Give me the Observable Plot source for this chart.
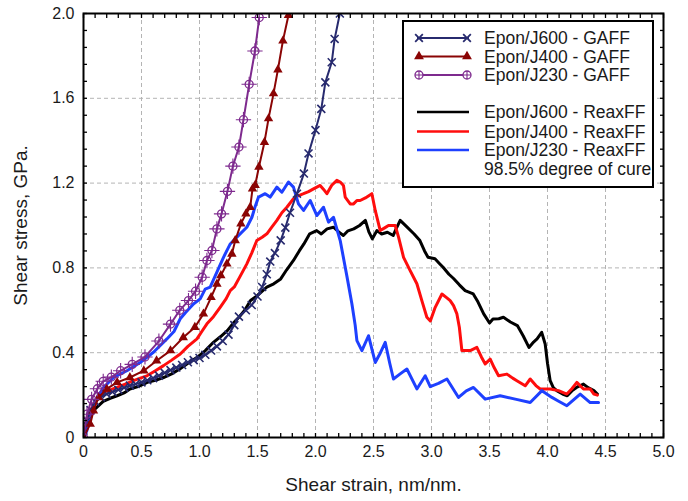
<!DOCTYPE html>
<html>
<head>
<meta charset="utf-8">
<script src="https://cdn.jsdelivr.net/npm/d3@7"></script>
<script src="https://cdn.jsdelivr.net/npm/@observablehq/plot@0.6"></script>
<style>
  body { margin: 0; background: #fff; }
  #wrap { position: relative; width: 688px; height: 501px; font-family: "Liberation Sans", Arial, sans-serif; }
  #legend { position: absolute; left: 402px; top: 20px; }
</style>
</head>
<body>
<div id="wrap"><div id="chart"></div><div id="legend"></div></div>
<script>
// ---- tick labels ----
const xTicks = [0, 0.5, 1.0, 1.5, 2.0, 2.5, 3.0, 3.5, 4.0, 4.5, 5.0];
const yTicks = [0, 0.4, 0.8, 1.2, 1.6, 2.0];
const xTitle = "Shear strain, nm/nm.";
const yTitle = "Shear stress, GPa.";

// ---- series names ----
const gaffNames = ["Epon/J600 - GAFF", "Epon/J400 - GAFF", "Epon/J230 - GAFF"];
const reaxNames = ["Epon/J600 - ReaxFF", "Epon/J400 - ReaxFF", "Epon/J230 - ReaxFF"];
const legendNote = "98.5% degree of cure";

// ---- GAFF series [strain, stress] ----
const gaffJ600 = [[0,0],[0.03,0.08],[0.06,0.13],[0.1,0.17],[0.15,0.19],[0.2,0.205],[0.25,0.215],[0.3,0.225],[0.35,0.235],[0.4,0.245],[0.45,0.252],[0.5,0.26],[0.55,0.27],[0.6,0.28],[0.65,0.292],[0.7,0.305],[0.75,0.318],[0.8,0.33],[0.85,0.342],[0.9,0.355],[0.95,0.365],[1.0,0.375],[1.05,0.39],[1.1,0.41],[1.15,0.43],[1.2,0.455],[1.25,0.485],[1.3,0.53],[1.34,0.57],[1.4,0.6],[1.45,0.625],[1.5,0.665],[1.54,0.71],[1.58,0.77],[1.61,0.83],[1.65,0.87],[1.7,0.93],[1.74,0.99],[1.78,1.06],[1.84,1.15],[1.9,1.245],[1.94,1.34],[2.0,1.45],[2.05,1.55],[2.085,1.675],[2.14,1.77],[2.165,1.88],[2.21,2.0]];
const gaffJ400 = [[0,0],[0.058,0.063],[0.086,0.126],[0.129,0.189],[0.2,0.229],[0.29,0.26],[0.4,0.283],[0.52,0.315],[0.63,0.362],[0.75,0.41],[0.86,0.472],[0.96,0.52],[1.034,0.583],[1.1,0.661],[1.15,0.724],[1.184,0.764],[1.236,0.819],[1.279,0.866],[1.308,0.929],[1.357,1.008],[1.4,1.055],[1.437,1.086],[1.457,1.173],[1.48,1.19],[1.512,1.276],[1.56,1.393],[1.595,1.504],[1.638,1.622],[1.676,1.735],[1.719,1.871],[1.767,1.992]];
const gaffJ230 = [[0,0],[0.03,0.11],[0.07,0.18],[0.12,0.23],[0.17,0.265],[0.24,0.285],[0.32,0.315],[0.42,0.345],[0.53,0.38],[0.65,0.455],[0.75,0.535],[0.83,0.6],[0.905,0.646],[0.966,0.69],[1.023,0.756],[1.064,0.835],[1.107,0.882],[1.15,0.984],[1.19,1.055],[1.241,1.161],[1.288,1.28],[1.34,1.37],[1.379,1.499],[1.428,1.666],[1.478,1.823],[1.515,1.981]];

// ---- ReaxFF series [strain, stress] ----
const reaxJ600 = [[0,0],[0.015,0.03],[0.05,0.09],[0.1,0.135],[0.17,0.17],[0.23,0.185],[0.29,0.197],[0.35,0.21],[0.4,0.229],[0.47,0.24],[0.55,0.26],[0.62,0.27],[0.69,0.283],[0.76,0.3],[0.83,0.323],[0.9,0.35],[0.98,0.378],[1.05,0.41],[1.12,0.449],[1.18,0.475],[1.24,0.504],[1.3,0.545],[1.34,0.567],[1.39,0.6],[1.44,0.646],[1.5,0.67],[1.58,0.709],[1.64,0.725],[1.7,0.748],[1.75,0.79],[1.81,0.835],[1.86,0.88],[1.9,0.913],[1.95,0.961],[2.01,0.976],[2.05,0.96],[2.1,0.984],[2.155,0.992],[2.2,0.97],[2.24,0.953],[2.28,0.975],[2.33,0.984],[2.38,1.0],[2.43,1.024],[2.46,0.97],[2.49,0.937],[2.53,0.976],[2.57,0.96],[2.62,0.968],[2.67,0.953],[2.7,0.99],[2.73,1.024],[2.79,0.992],[2.85,0.96],[2.9,0.929],[2.94,0.88],[2.97,0.85],[3.03,0.843],[3.07,0.82],[3.1,0.803],[3.15,0.77],[3.19,0.75],[3.24,0.72],[3.29,0.693],[3.36,0.677],[3.4,0.64],[3.45,0.583],[3.5,0.54],[3.53,0.559],[3.58,0.56],[3.62,0.567],[3.68,0.545],[3.74,0.528],[3.79,0.48],[3.84,0.425],[3.88,0.45],[3.91,0.465],[3.95,0.496],[3.98,0.441],[4.0,0.35],[4.023,0.268],[4.05,0.235],[4.08,0.221],[4.13,0.205],[4.17,0.197],[4.21,0.22],[4.25,0.236],[4.31,0.252],[4.35,0.235],[4.4,0.221],[4.43,0.205]];
const reaxJ400 = [[0,0],[0.03,0.079],[0.086,0.158],[0.13,0.19],[0.172,0.213],[0.23,0.225],[0.288,0.236],[0.36,0.252],[0.431,0.268],[0.49,0.28],[0.547,0.291],[0.62,0.315],[0.69,0.339],[0.76,0.365],[0.834,0.394],[0.9,0.43],[0.978,0.465],[1.02,0.5],[1.064,0.536],[1.12,0.57],[1.178,0.614],[1.23,0.655],[1.265,0.693],[1.3,0.71],[1.35,0.76],[1.408,0.819],[1.45,0.87],[1.494,0.929],[1.54,0.945],[1.581,0.961],[1.62,0.99],[1.667,1.024],[1.71,1.06],[1.753,1.086],[1.81,1.126],[1.85,1.14],[1.897,1.15],[1.94,1.16],[1.983,1.173],[2.04,1.189],[2.07,1.17],[2.098,1.15],[2.14,1.19],[2.184,1.213],[2.213,1.205],[2.241,1.189],[2.256,1.134],[2.299,1.102],[2.328,1.102],[2.357,1.118],[2.385,1.118],[2.43,1.13],[2.486,1.15],[2.515,1.071],[2.558,0.976],[2.6,0.99],[2.629,1.0],[2.687,1.0],[2.716,0.945],[2.759,0.85],[2.816,0.787],[2.874,0.725],[2.92,0.64],[2.96,0.567],[2.99,0.55],[3.032,0.614],[3.09,0.677],[3.13,0.66],[3.161,0.646],[3.19,0.622],[3.219,0.583],[3.24,0.52],[3.262,0.41],[3.3,0.41],[3.334,0.41],[3.391,0.425],[3.43,0.38],[3.463,0.347],[3.506,0.37],[3.54,0.33],[3.578,0.291],[3.65,0.299],[3.7,0.28],[3.736,0.268],[3.808,0.244],[3.851,0.276],[3.9,0.245],[3.937,0.229],[4.023,0.229],[4.095,0.221],[4.167,0.205],[4.21,0.23],[4.253,0.26],[4.31,0.229],[4.368,0.229],[4.4,0.205],[4.43,0.2]];
const reaxJ230 = [[0,0],[0.029,0.032],[0.058,0.11],[0.101,0.173],[0.172,0.236],[0.259,0.283],[0.374,0.315],[0.489,0.354],[0.603,0.402],[0.719,0.465],[0.78,0.5],[0.834,0.56],[0.88,0.59],[0.948,0.63],[1.006,0.654],[1.049,0.7],[1.092,0.709],[1.15,0.78],[1.207,0.85],[1.265,0.913],[1.322,0.945],[1.408,0.992],[1.452,1.039],[1.48,1.09],[1.509,1.134],[1.566,1.15],[1.609,1.134],[1.667,1.181],[1.71,1.157],[1.767,1.205],[1.81,1.181],[1.853,1.102],[1.897,1.071],[1.954,1.118],[2.012,1.047],[2.069,1.086],[2.112,1.016],[2.155,1.039],[2.213,0.929],[2.271,0.76],[2.314,0.63],[2.342,0.53],[2.357,0.457],[2.4,0.41],[2.457,0.48],[2.515,0.354],[2.56,0.4],[2.601,0.449],[2.64,0.35],[2.672,0.276],[2.73,0.3],[2.788,0.323],[2.874,0.229],[2.946,0.291],[2.989,0.24],[3.06,0.255],[3.133,0.276],[3.233,0.189],[3.3,0.22],[3.362,0.236],[3.463,0.181],[3.592,0.197],[3.722,0.181],[3.851,0.165],[3.952,0.221],[4.038,0.189],[4.1,0.17],[4.167,0.15],[4.282,0.205],[4.368,0.165],[4.44,0.165]];

// ---- colours ----
const cNavy = "#272a6e", cMaroon = "#8a0404", cPurple = "#7e2a8e";
const cBlack = "#000000", cRed = "#ff0d0d", cBlue = "#1e40ff";

const xMinor = d3.range(0, 5.0001, 0.1).map(v => +v.toFixed(2));
const yMinor = d3.range(0, 2.0001, 0.08).map(v => +v.toFixed(2));
const fmt = d => d === 0 ? "0" : d.toFixed(1);
const X = d => d[0], Y = d => d[1];

const font = '"Liberation Sans", Arial, sans-serif';

const plot = Plot.plot({
  width: 688,
  height: 501,
  marginLeft: 83,
  marginRight: 25,
  marginTop: 13,
  marginBottom: 64,
  x: {domain: [0, 5], label: null},
  y: {domain: [0, 2], label: null},
  style: {fontFamily: font, fontSize: "16px", color: "#1a1a1a", background: "white"},
  marks: [
    Plot.gridX(xTicks, {stroke: "#b4b4b4", strokeOpacity: 1, strokeDasharray: "4,3"}),
    Plot.gridY(yTicks, {stroke: "#b4b4b4", strokeOpacity: 1, strokeDasharray: "4,3"}),
    // ReaxFF
    Plot.line(reaxJ600, {x: X, y: Y, stroke: cBlack, strokeWidth: 3, clip: true}),
    Plot.line(reaxJ400, {x: X, y: Y, stroke: cRed, strokeWidth: 3, clip: true}),
    Plot.line(reaxJ230, {x: X, y: Y, stroke: cBlue, strokeWidth: 3, clip: true}),
    // GAFF
    Plot.line(gaffJ600, {x: X, y: Y, stroke: cNavy, strokeWidth: 2, clip: true}),
    Plot.dot(gaffJ600, {x: X, y: Y, symbol: "times", r: 3.7, stroke: cNavy, strokeWidth: 1.6, clip: true}),
    Plot.line(gaffJ400, {x: X, y: Y, stroke: cMaroon, strokeWidth: 2, clip: true}),
    Plot.dot(gaffJ400, {x: X, y: Y, symbol: "triangle", r: 3.5, fill: cMaroon, stroke: "none", clip: true}),
    Plot.line(gaffJ230, {x: X, y: Y, stroke: cPurple, strokeWidth: 2, clip: true}),
    Plot.dot(gaffJ230, {x: X, y: Y, symbol: "circle", r: 4, fill: "none", stroke: cPurple, strokeWidth: 1.3, clip: true}),
    Plot.dot(gaffJ230, {x: X, y: Y, symbol: "plus", r: 5, stroke: cPurple, strokeWidth: 1.1, clip: true}),
    // axes labels
    Plot.axisX(xTicks, {tickSize: 0, tickPadding: 8, tickFormat: fmt, label: null, fontSize: 16}),
    Plot.axisY(yTicks, {tickSize: 0, tickPadding: 9, tickFormat: fmt, label: null, fontSize: 16}),
    // inward ticks on all sides
    Plot.axisX(xMinor, {anchor: "bottom", tickSize: -4, fill: "none", label: null, stroke: "#000", strokeWidth: 1.3}),
    Plot.axisX(xMinor, {anchor: "top", tickSize: -4, fill: "none", label: null, stroke: "#000", strokeWidth: 1.3}),
    Plot.axisY(yMinor, {anchor: "left", tickSize: -4, fill: "none", label: null, stroke: "#000", strokeWidth: 1.3}),
    Plot.axisY(yMinor, {anchor: "right", tickSize: -4, fill: "none", label: null, stroke: "#000", strokeWidth: 1.3}),
    Plot.frame({stroke: "#000", strokeWidth: 2}),
    Plot.text([xTitle], {frameAnchor: "bottom", dy: 47, textAnchor: "middle", lineAnchor: "middle", fontSize: 19, fill: "#1a1a1a"}),
    Plot.text([yTitle], {frameAnchor: "left", dx: -63, rotate: -90, textAnchor: "middle", lineAnchor: "middle", fontSize: 19, fill: "#1a1a1a"})
  ]
});
document.getElementById("chart").appendChild(plot);

// ---- legend (overlay box inside plot area) ----
const lw = 252, lh = 168;
const lsvg = d3.select("#legend").append("svg").attr("width", lw).attr("height", lh)
  .style("font-family", font).style("overflow", "visible");
lsvg.append("rect").attr("x", 1).attr("y", 1).attr("width", lw - 2).attr("height", lh - 2)
  .attr("fill", "white").attr("stroke", "#000").attr("stroke-width", 2);
const gaffStyles = [
  {color: cNavy, sym: "times"},
  {color: cMaroon, sym: "triangle"},
  {color: cPurple, sym: "circleplus"}
];
const reaxColors = [cBlack, cRed, cBlue];
const rowY = [18, 36.5, 55, 92, 111.5, 130];
const x0 = 15, x1 = 67, tx = 82;
function drawSym(g, sym, color, cx, cy) {
  if (sym === "times") {
    g.append("path").attr("d", d3.symbol(d3.symbolTimes, 40)()).attr("transform", `translate(${cx},${cy})`)
      .attr("fill", "none").attr("stroke", color).attr("stroke-width", 1.8);
  } else if (sym === "triangle") {
    g.append("path").attr("d", d3.symbol(d3.symbolTriangle, 42)()).attr("transform", `translate(${cx},${cy})`)
      .attr("fill", color);
  } else {
    g.append("circle").attr("cx", cx).attr("cy", cy).attr("r", 4).attr("fill", "white").attr("stroke", color).attr("stroke-width", 1.3);
    g.append("path").attr("d", `M${cx - 4},${cy}H${cx + 4}M${cx},${cy - 4}V${cy + 4}`).attr("stroke", color).attr("stroke-width", 1.1);
  }
}
gaffNames.forEach((name, i) => {
  const y = rowY[i], s = gaffStyles[i];
  lsvg.append("line").attr("x1", x0).attr("x2", x1).attr("y1", y).attr("y2", y).attr("stroke", s.color).attr("stroke-width", 2);
  drawSym(lsvg, s.sym, s.color, x0 + 2, y);
  drawSym(lsvg, s.sym, s.color, x1 - 2, y);
  lsvg.append("text").attr("x", tx).attr("y", y).attr("dy", "0.35em").attr("font-size", 17.5).attr("fill", "#1a1a1a").text(name);
});
reaxNames.forEach((name, i) => {
  const y = rowY[i + 3];
  lsvg.append("line").attr("x1", x0).attr("x2", x1).attr("y1", y).attr("y2", y).attr("stroke", reaxColors[i]).attr("stroke-width", 2.5);
  lsvg.append("text").attr("x", tx).attr("y", y).attr("dy", "0.35em").attr("font-size", 17.5).attr("fill", "#1a1a1a").text(name);
});
lsvg.append("text").attr("x", tx).attr("y", 148.5).attr("dy", "0.35em").attr("font-size", 17.5).attr("fill", "#1a1a1a").text(legendNote);
</script>
</body>
</html>
